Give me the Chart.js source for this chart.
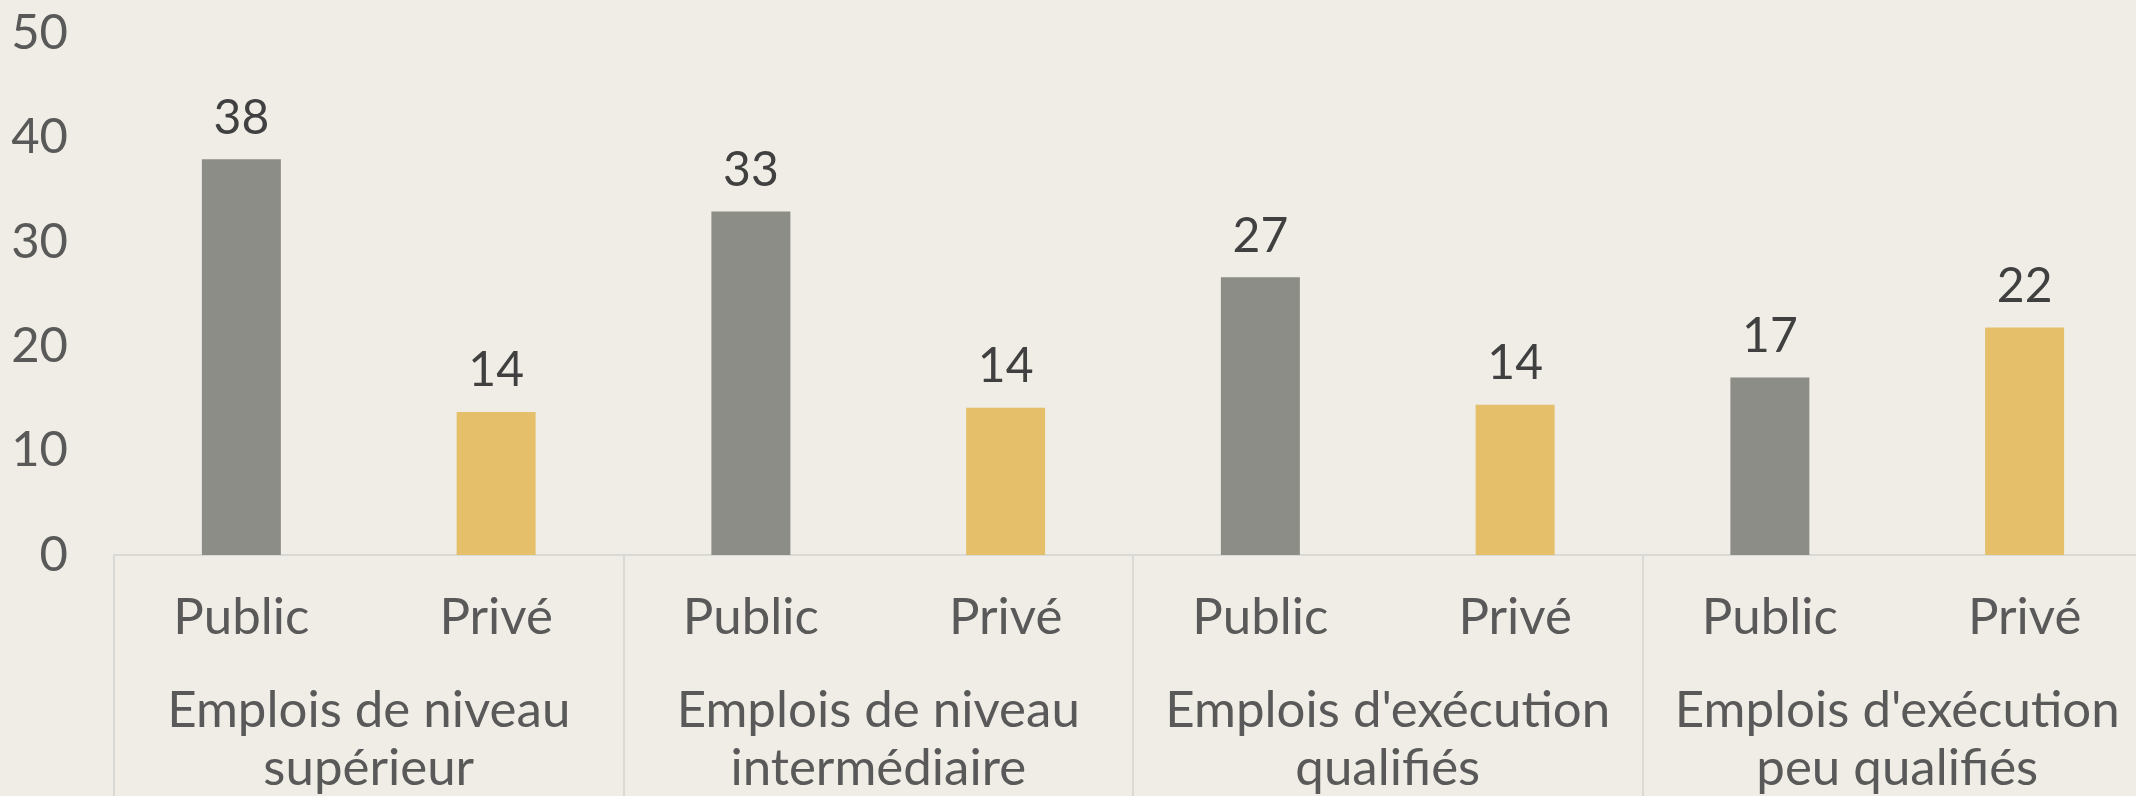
<!DOCTYPE html>
<html>
<head>
<meta charset="utf-8">
<script src="https://cdn.jsdelivr.net/npm/chart.js@4"></script>
<style>
  html, body { margin: 0; padding: 0; background: #EFEDE5; overflow: hidden; }
  #wrap { width: 2152px; height: 796px; }
</style>
</head>
<body>
<div id="wrap"><canvas id="chart" width="2152" height="796"></canvas></div>
<script>
// Categories and values
const groupLabels = [
    ['Emplois de niveau', 'supérieur'],
    ['Emplois de niveau', 'intermédiaire'],
    ["Emplois d'exécution", 'qualifiés'],
    ["Emplois d'exécution", 'peu qualifiés']
];
const sectors = ['Public', 'Privé'];
const publicValues = [37.9, 32.9, 26.6, 17.0];
const priveValues = [13.7, 14.1, 14.4, 21.8];
const yTicks = [0, 10, 20, 30, 40, 50];

const publicColor = '#8C8D86';
const priveColor = '#E5BF6A';
const fontFamily = 'Lato, "Open Sans", sans-serif';

// Interleave the two series into one bar per (group, sector)
let labels = [];
let values = [];
let colors = [];
groupLabels.forEach((g, i) => {
    labels.push(sectors[0], sectors[1]);
    values.push(publicValues[i], priveValues[i]);
    colors.push(publicColor, priveColor);
});

// Value labels above each bar
const barLabels = {
    id: 'barLabels',
    afterDatasetsDraw(chart) {
        const ctx = chart.ctx;
        const meta = chart.getDatasetMeta(0);
        ctx.save();
        ctx.font = '48px ' + fontFamily;
        ctx.fillStyle = '#404040';
        ctx.textAlign = 'center';
        ctx.textBaseline = 'middle';
        meta.data.forEach((bar, i) => {
            ctx.fillText(Math.round(values[i]), bar.x, bar.y - 41);
        });
        ctx.restore();
    }
};

// Vertical separators between the groups, below the axis
const groupLines = {
    id: 'groupLines',
    afterDraw(chart) {
        const ctx = chart.ctx;
        const xScale = chart.scales.x;
        ctx.save();
        ctx.strokeStyle = '#D9D9D6';
        ctx.lineWidth = 2;
        for (let k = 0; k <= groupLabels.length; k++) {
            const x = Math.round(xScale.getPixelForValue(k * 2 - 0.5));
            ctx.beginPath();
            ctx.moveTo(x, chart.chartArea.bottom);
            ctx.lineTo(x, chart.height);
            ctx.stroke();
        }
        ctx.restore();
    }
};

const ctx = document.getElementById('chart').getContext('2d');
new Chart(ctx, {
    type: 'bar',
    data: {
        labels: labels,
        datasets: [{
            data: values,
            backgroundColor: colors,
            barPercentage: 0.31,
            categoryPercentage: 1
        }]
    },
    options: {
        responsive: false,
        animation: false,
        layout: { padding: { top: 33, left: 0, right: 0, bottom: 0 } },
        plugins: {
            legend: { display: false },
            tooltip: { enabled: false }
        },
        scales: {
            y: {
                min: yTicks[0],
                max: yTicks[yTicks.length - 1],
                afterBuildTicks: (scale) => { scale.ticks = yTicks.map(v => ({ value: v })); },
                afterFit: (scale) => {
                    scale.width = 114;
                    scale.paddingTop = 0;
                    scale.paddingBottom = 0;
                },
                grid: { display: false, drawTicks: false },
                border: { display: false },
                ticks: {
                    padding: 46,
                    color: '#595959',
                    font: { family: fontFamily, size: 49 }
                }
            },
            x: {
                afterFit: (scale) => {
                    scale.height = 89;
                    scale.paddingLeft = 0;
                    scale.paddingRight = 0;
                },
                grid: { display: false, drawTicks: false },
                border: { display: true, color: '#D9D9D6', width: 2 },
                ticks: {
                    autoSkip: false,
                    maxRotation: 0,
                    padding: 34,
                    color: '#595959',
                    font: { family: fontFamily, size: 51, lineHeight: 1.1 }
                }
            },
            groups: {
                type: 'category',
                position: 'bottom',
                labels: groupLabels,
                offset: true,
                afterFit: (scale) => {
                    scale.height = 152;
                    scale.paddingLeft = 0;
                    scale.paddingRight = 0;
                },
                grid: { display: false, drawTicks: false },
                border: { display: false },
                ticks: {
                    autoSkip: false,
                    maxRotation: 0,
                    padding: 37,
                    color: '#595959',
                    font: { family: fontFamily, size: 51, lineHeight: 1.14 }
                }
            }
        }
    },
    plugins: [barLabels, groupLines]
});
</script>
</body>
</html>
